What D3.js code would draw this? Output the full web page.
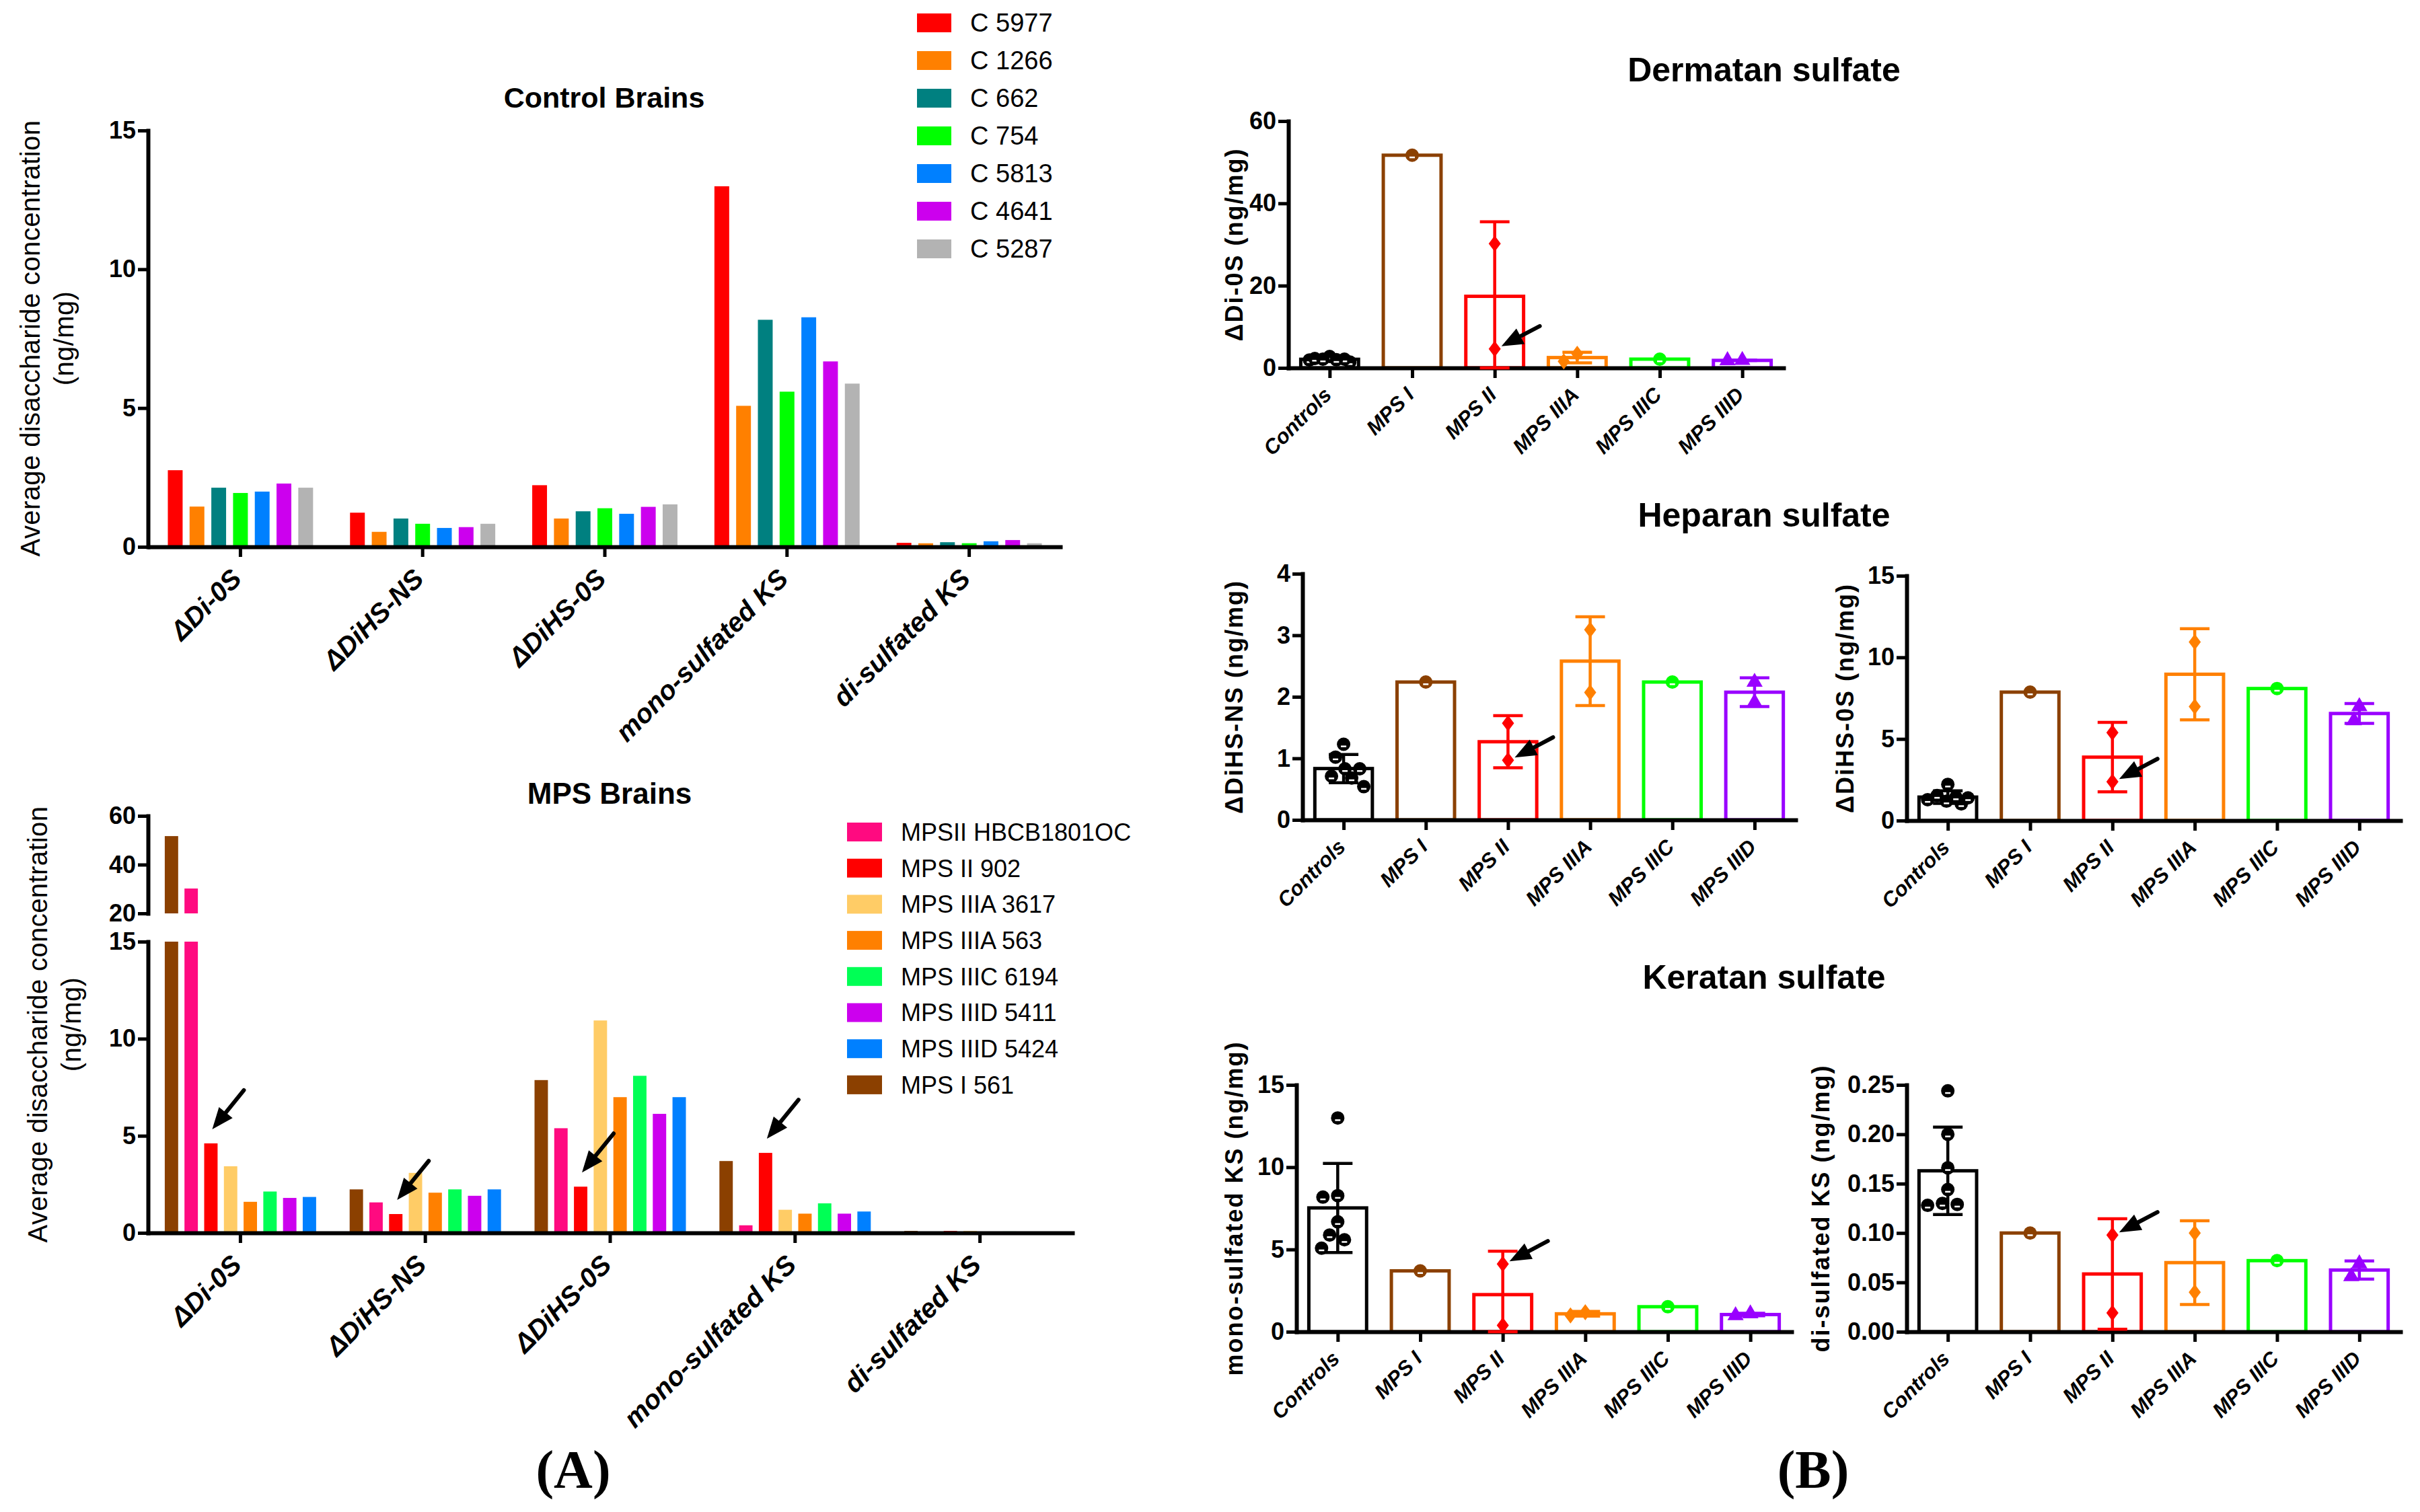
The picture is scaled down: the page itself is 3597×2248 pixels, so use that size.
<!DOCTYPE html>
<html>
<head>
<meta charset="utf-8">
<script src="https://cdn.jsdelivr.net/npm/d3@7"></script>
<style>
  body { margin: 0; background: #fff; }
  svg text { font-family: "Liberation Sans", Arial, "Noto Sans", sans-serif; }
</style>
</head>
<body>
<script>
// ---------- data ----------
const disaccharides = ['ΔDi-0S', 'ΔDiHS-NS', 'ΔDiHS-0S', 'mono-sulfated KS', 'di-sulfated KS'];

const controlSamples = ['C 5977', 'C 1266', 'C 662', 'C 754', 'C 5813', 'C 4641', 'C 5287'];
const controlColors = ['#ff0000', '#ff8000', '#008080', '#00ff00', '#0080ff', '#cc00ee', '#b3b3b3'];
// one row per sample, columns follow `disaccharides` (ng/mg)
const controlValues = [
    [2.76, 1.23, 2.22, 12.99, 0.144],
    [1.45, 0.54, 1.02, 5.08, 0.128],
    [2.13, 1.02, 1.28, 8.18, 0.166],
    [1.94, 0.83, 1.39, 5.59, 0.130],
    [1.99, 0.68, 1.19, 8.27, 0.200],
    [2.28, 0.71, 1.44, 6.68, 0.244],
    [2.13, 0.83, 1.53, 5.88, 0.129]
];

// legend order
const mpsSamples = ['MPSII HBCB1801OC', 'MPS II 902', 'MPS IIIA 3617', 'MPS IIIA 563',
    'MPS IIIC 6194', 'MPS IIID 5411', 'MPS IIID 5424', 'MPS I 561'];
const mpsColors = ['#ff0a80', '#ff0000', '#ffcc66', '#ff8000', '#00ff55', '#cc00ee', '#0080ff', '#8b4000'];
const mpsValues = [
    [30.2, 1.57, 5.39, 0.39, 0.019],
    [4.61, 0.97, 2.38, 4.12, 0.098],
    [3.43, 3.09, 10.94, 1.19, 0.100],
    [1.60, 2.07, 6.99, 0.99, 0.040],
    [2.13, 2.24, 8.09, 1.52, 0.072],
    [1.80, 1.91, 6.13, 0.99, 0.069],
    [1.85, 2.24, 6.99, 1.10, 0.056],
    [51.7, 2.24, 7.87, 3.70, 0.100]
];
// order of the bars inside each cluster
const mpsBarOrder = ['MPS I 561', 'MPSII HBCB1801OC', 'MPS II 902', 'MPS IIIA 3617',
    'MPS IIIA 563', 'MPS IIIC 6194', 'MPS IIID 5411', 'MPS IIID 5424'];
const arrowSample = 'MPS II 902';

const groupNames = ['Controls', 'MPS I', 'MPS II', 'MPS IIIA', 'MPS IIIC', 'MPS IIID'];
const groupColors = ['#000000', '#8b4000', '#ff0000', '#ff8000', '#00ff00', '#9900ff'];
const groupSymbols = ['circle', 'circle', 'diamond', 'diamond', 'circle', 'triangle'];
const groupMembers = [
    controlSamples,
    ['MPS I 561'],
    ['MPSII HBCB1801OC', 'MPS II 902'],
    ['MPS IIIA 3617', 'MPS IIIA 563'],
    ['MPS IIIC 6194'],
    ['MPS IIID 5411', 'MPS IIID 5424']
];

const ticksControl = [0, 5, 10, 15];
const ticksMpsLow = [0, 5, 10, 15];
const ticksMpsHigh = [20, 40, 60];
const ticksDS = [0, 20, 40, 60];
const ticksHSNS = [0, 1, 2, 3, 4];
const ticksHS0S = [0, 5, 10, 15];
const ticksKSmono = [0, 5, 10, 15];
const ticksKSdi = [0, 0.05, 0.10, 0.15, 0.20, 0.25];

// ---------- setup ----------
const W = 3597, H = 2248;
const svg = d3.select('body').append('svg')
    .attr('width', W).attr('height', H)
    .attr('viewBox', `0 0 ${W} ${H}`);
svg.append('rect').attr('width', W).attr('height', H).attr('fill', '#fff');

const valueOf = new Map();
controlSamples.forEach((s, i) => valueOf.set(s, controlValues[i]));
mpsSamples.forEach((s, i) => valueOf.set(s, mpsValues[i]));
const mpsColorOf = new Map(mpsSamples.map((s, i) => [s, mpsColors[i]]));

function styleAxis(g) {
    g.select('.domain').attr('stroke', '#000').attr('stroke-width', 6).attr('stroke-linecap', 'square');
    g.selectAll('.tick line').attr('stroke', '#000').attr('stroke-width', 5);
}

function drawYAxis(g, scale, ticks, fmt) {
    g.call(d3.axisLeft(scale).tickValues(ticks).tickFormat(fmt)
        .tickSize(15).tickPadding(3).tickSizeOuter(0));
    styleAxis(g);
    g.selectAll('.tick text').attr('font-size', 36).attr('font-weight', 'bold').attr('fill', '#000');
}

function drawXAxis(g, scale, fontSize, dx, dy) {
    g.call(d3.axisBottom(scale).tickSize(15).tickSizeOuter(0).tickFormat(''));
    styleAxis(g);
    g.selectAll('.tick').append('text')
        .attr('transform', `translate(${dx},${dy}) rotate(-45)`)
        .attr('text-anchor', 'end')
        .attr('fill', '#000')
        .attr('font-size', fontSize)
        .attr('font-weight', 'bold')
        .attr('font-style', 'italic')
        .text(d => d);
}

function arrow(g, x, y, dx, dy) {
    const len = Math.hypot(dx, dy), ux = dx / len, uy = dy / len;
    const hl = 32, hw = 13;
    const bx = x + ux * hl, by = y + uy * hl;
    g.append('line')
        .attr('x1', x + dx).attr('y1', y + dy).attr('x2', bx).attr('y2', by)
        .attr('stroke', '#000').attr('stroke-width', 6).attr('stroke-linecap', 'round');
    g.append('path')
        .attr('d', `M${x},${y}L${bx - uy * hw},${by + ux * hw}L${bx + uy * hw},${by - ux * hw}Z`)
        .attr('fill', '#000');
}

function title(text, x, y, size) {
    svg.append('text').attr('x', x).attr('y', y).attr('text-anchor', 'middle')
        .attr('font-size', size).attr('font-weight', 'bold').text(text);
}

function yLabel(lines, x, y, size, weight, gap, spacing) {
    const t = svg.append('text')
        .attr('transform', `translate(${x},${y}) rotate(-90)`)
        .attr('text-anchor', 'middle').attr('font-size', size).attr('font-weight', weight)
        .attr('letter-spacing', spacing);
    lines.forEach((l, i) => t.append('tspan').attr('x', 0).attr('y', i * gap).attr('dy', '0.35em').text(l));
}

// ---------- (A) Control Brains ----------
{
    const g = svg.append('g');
    const x = d3.scaleBand().domain(disaccharides).range([222, 1576]);
    const xs = d3.scaleBand().domain(controlSamples).range([0, x.bandwidth()])
        .paddingInner(0.32).paddingOuter(0.85);
    const y = d3.scaleLinear().domain([0, 15]).range([813, 194]);

    const cells = controlSamples.flatMap((s, i) =>
        disaccharides.map((d, j) => ({ s, d, v: controlValues[i][j], c: controlColors[i] })));
    g.selectAll('rect.bar').data(cells).join('rect')
        .attr('x', d => x(d.d) + xs(d.s))
        .attr('y', d => y(d.v))
        .attr('width', xs.bandwidth())
        .attr('height', d => y(0) - y(d.v))
        .attr('fill', d => d.c);

    drawYAxis(g.append('g').attr('transform', 'translate(220,0)'), y, ticksControl, d3.format('d'));
    drawXAxis(g.append('g').attr('transform', `translate(0,${y(0)})`), x, 40, 4, 50);

    title('Control Brains', 898, 160, 43);
    yLabel(['Average disaccharide concentration', '(ng/mg)'], 45, 503, 40, 'normal', 50, 0.4);

    const lg = svg.append('g');
    controlSamples.forEach((s, i) => {
        lg.append('rect').attr('x', 1363).attr('y', 20 + i * 56).attr('width', 51).attr('height', 28)
            .attr('fill', controlColors[i]);
        lg.append('text').attr('x', 1442).attr('y', 47 + i * 56).attr('font-size', 38).text(s);
    });
}

// ---------- (A) MPS Brains ----------
{
    const g = svg.append('g');
    const x = d3.scaleBand().domain(disaccharides).range([220, 1594]);
    const xs = d3.scaleBand().domain(mpsBarOrder).range([0, x.bandwidth()])
        .paddingInner(0.32).paddingOuter(0.85);
    const yLow = d3.scaleLinear().domain([0, 15]).range([1833, 1400]);
    const yHigh = d3.scaleLinear().domain([20, 60]).range([1358, 1213]);

    const cells = mpsBarOrder.flatMap(s =>
        disaccharides.map((d, j) => ({ s, d, v: valueOf.get(s)[j], c: mpsColorOf.get(s) })));
    cells.forEach(d => {
        const bx = x(d.d) + xs(d.s);
        const top = Math.min(d.v, 15);
        g.append('rect').attr('x', bx).attr('y', yLow(top)).attr('width', xs.bandwidth())
            .attr('height', yLow(0) - yLow(top)).attr('fill', d.c);
        if (d.v > 20) {
            g.append('rect').attr('x', bx).attr('y', yHigh(d.v)).attr('width', xs.bandwidth())
                .attr('height', yHigh(20) - yHigh(d.v)).attr('fill', d.c);
        }
    });

    drawYAxis(g.append('g').attr('transform', 'translate(220,0)'), yLow, ticksMpsLow, d3.format('d'));
    drawYAxis(g.append('g').attr('transform', 'translate(220,0)'), yHigh, ticksMpsHigh, d3.format('d'));
    drawXAxis(g.append('g').attr('transform', `translate(0,${yLow(0)})`), x, 40, 4, 50);

    // arrows on the MPS II 902 bars (first four disaccharides)
    disaccharides.slice(0, 4).forEach((d, j) => {
        const v = valueOf.get(arrowSample)[j];
        arrow(g, x(d) + xs(arrowSample) + xs.bandwidth() / 2 + 2, yLow(v) - 21, 47, -58);
    });

    title('MPS Brains', 906, 1195, 44);
    yLabel(['Average disaccharide concentration', '(ng/mg)'], 56, 1523, 40, 'normal', 50, 0.4);

    const lg = svg.append('g');
    mpsSamples.forEach((s, i) => {
        const cy = 1237 + i * 53.7;
        lg.append('rect').attr('x', 1259).attr('y', cy - 14).attr('width', 52).attr('height', 28)
            .attr('fill', mpsColors[i]);
        lg.append('text').attr('x', 1339).attr('y', cy).attr('dy', '0.36em').attr('font-size', 36).text(s);
    });
}

// ---------- (B) group panels ----------
const panelsB = [
    { m: 0, label: 'ΔDi-0S (ng/mg)', ticks: ticksDS, fmt: d3.format('d'),
      ax: 1915, xEnd: 2651, y0: 547, yTop: 180, labelX: 1834 },
    { m: 1, label: 'ΔDiHS-NS (ng/mg)', ticks: ticksHSNS, fmt: d3.format('d'),
      ax: 1936, xEnd: 2669, y0: 1219, yTop: 853, labelX: 1834 },
    { m: 2, label: 'ΔDiHS-0S (ng/mg)', ticks: ticksHS0S, fmt: d3.format('d'),
      ax: 2834, xEnd: 3568, y0: 1220, yTop: 856, labelX: 2742 },
    { m: 3, label: 'mono-sulfated KS (ng/mg)', ticks: ticksKSmono, fmt: d3.format('d'),
      ax: 1927, xEnd: 2663, y0: 1980, yTop: 1613, labelX: 1834 },
    { m: 4, label: 'di-sulfated KS (ng/mg)', ticks: ticksKSdi, fmt: d3.format('.2f'),
      ax: 2834, xEnd: 3568, y0: 1980, yTop: 1613, labelX: 2706 }
];

function symbolPath(kind) {
    if (kind === 'diamond') return 'M0,-12L9,0L0,12L-9,0Z';
    if (kind === 'triangle') return d3.symbol(d3.symbolTriangle, 250)();
    return d3.symbol(d3.symbolCircle, 314)();
}

// simple beeswarm: offsets limited to +-maxOff
function swarm(ys, diam, maxOff) {
    const order = ys.map((y, i) => i).sort((a, b) => ys[a] - ys[b]);
    const placed = [];
    const off = new Array(ys.length);
    order.forEach(i => {
        let best = null, bestDist = -1;
        const cands = d3.range(0, maxOff + 1, 2).flatMap(o => o === 0 ? [0] : [-o, o]);
        for (const o of cands) {
            const dmin = d3.min(placed, p => Math.hypot(p[0] - o, p[1] - ys[i])) ?? Infinity;
            if (dmin >= diam) { best = o; bestDist = dmin; break; }
            if (dmin > bestDist) { bestDist = dmin; best = o; }
        }
        off[i] = best;
        placed.push([best, ys[i]]);
    });
    return off;
}

panelsB.forEach(p => {
    const g = svg.append('g');
    const x = d3.scalePoint().domain(groupNames).range([p.ax, p.xEnd]).padding(0.5);
    const bw = x.step() * 0.7;
    const y = d3.scaleLinear().domain([0, d3.max(p.ticks)]).range([p.y0, p.yTop]);

    const groups = groupNames.map((name, gi) => {
        const vals = groupMembers[gi].map(s => valueOf.get(s)[p.m]);
        return { name, gi, vals, mean: d3.mean(vals), sd: vals.length > 1 ? d3.deviation(vals) : null };
    });

    g.selectAll('rect.bar').data(groups).join('rect')
        .attr('x', d => x(d.name) - bw / 2)
        .attr('y', d => y(d.mean))
        .attr('width', bw)
        .attr('height', d => y(0) - y(d.mean))
        .attr('fill', '#fff')
        .attr('stroke', d => groupColors[d.gi])
        .attr('stroke-width', 5);

    drawYAxis(g.append('g').attr('transform', `translate(${p.ax},0)`), y, p.ticks, p.fmt);
    drawXAxis(g.append('g').attr('transform', `translate(0,${p.y0})`), x, 31, 4, 42);

    groups.filter(d => d.sd !== null).forEach(d => {
        const cx = x(d.name), col = groupColors[d.gi];
        const hi = y(d.mean + d.sd), lo = y(Math.max(0, d.mean - d.sd));
        g.append('line').attr('x1', cx).attr('x2', cx).attr('y1', hi).attr('y2', lo)
            .attr('stroke', col).attr('stroke-width', 4.5);
        [hi, lo].forEach(yy => g.append('line')
            .attr('x1', cx - 22).attr('x2', cx + 22).attr('y1', yy).attr('y2', yy)
            .attr('stroke', col).attr('stroke-width', 4.5));
    });

    groups.forEach(d => {
        const ys = d.vals.map(v => y(v));
        const offs = swarm(ys, 22, 30);
        const col = groupColors[d.gi], kind = groupSymbols[d.gi];
        ys.forEach((yy, k) => {
            const px = x(d.name) + offs[k];
            g.append('path').attr('d', symbolPath(kind))
                .attr('transform', `translate(${px},${yy})`).attr('fill', col);
            if (kind === 'circle') {
                g.append('rect').attr('x', px - 4).attr('y', yy + 2).attr('width', 8).attr('height', 2.5)
                    .attr('fill', '#fff');
            }
        });
    });

    const v902 = valueOf.get(arrowSample)[p.m];
    arrow(g, x('MPS II') + 10, y(v902) - 4, 57, -30);

    yLabel([p.label], p.labelX, (p.y0 + p.yTop) / 2, 36, 'bold', 0, 2);
});

title('Dermatan sulfate', 2622, 121, 50);
title('Heparan sulfate', 2622, 783, 50);
title('Keratan sulfate', 2622, 1470, 50);

svg.append('text').attr('x', 852).attr('y', 2212).attr('text-anchor', 'middle')
    .style('font-family', '"Liberation Serif", "Times New Roman", serif')
    .attr('font-size', 80).attr('font-weight', 'bold').text('(A)');
svg.append('text').attr('x', 2695).attr('y', 2212).attr('text-anchor', 'middle')
    .style('font-family', '"Liberation Serif", "Times New Roman", serif')
    .attr('font-size', 80).attr('font-weight', 'bold').text('(B)');
</script>
</body>
</html>
